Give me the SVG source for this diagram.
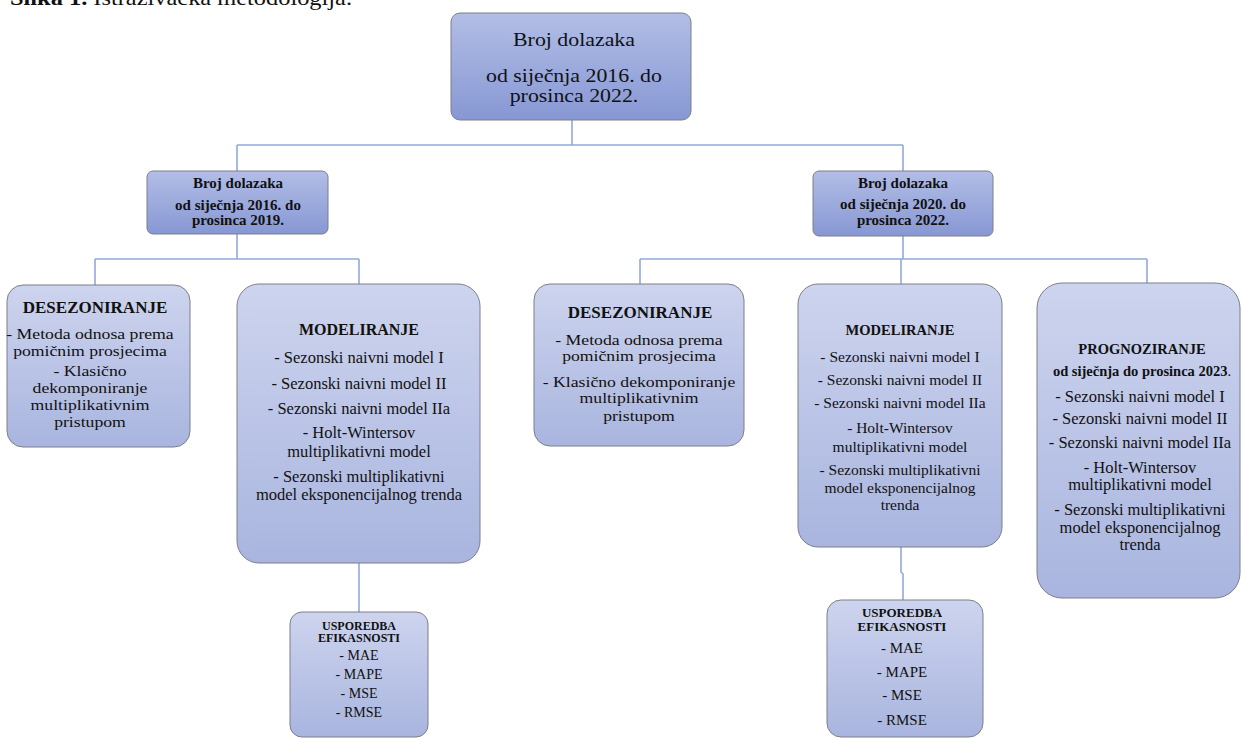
<svg xmlns="http://www.w3.org/2000/svg" width="1242" height="738" viewBox="0 0 1242 738">
  <style>
    text { font-family: "Liberation Serif", "Times New Roman", serif; fill: #111; text-anchor: middle; }
    .b { font-weight: bold; }
    .box { stroke: #7d7f88; stroke-width: 1; }
    .dark { fill: url(#gDark); }
    .light { fill: url(#gLight); }
    .conn { stroke: #93a9de; stroke-width: 1.6; fill: none; }
  </style>
  <defs>
    <linearGradient id="gDark" x1="0" y1="0" x2="0" y2="1">
      <stop offset="0" stop-color="#b2bee6"/>
      <stop offset="1" stop-color="#8797d3"/>
    </linearGradient>
    <linearGradient id="gLight" x1="0" y1="0" x2="0" y2="1">
      <stop offset="0" stop-color="#cdd4ee"/>
      <stop offset="1" stop-color="#a9b5df"/>
    </linearGradient>
  </defs>
  <rect width="1242" height="738" fill="#ffffff"/>

  <g transform="translate(10 0) scale(1.22 1)">
    <text x="0" y="5" style="text-anchor:start;font-size:20px"><tspan class="b">Slika 1.</tspan> Istraživačka metodologija.</text>
  </g>

  <g id="connectors">
    <path class="conn" d="M572 120 V145 M237 145 H903 M237 145 V171 M903 145 V171"/>
    <path class="conn" d="M237 234 V259 M95 259 H359 M95 259 V285 M359 259 V284"/>
    <path class="conn" d="M903 236 V259 M640 259 H1147 M640 259 V284 M901 259 V284 M1147 259 V283"/>
    <path class="conn" d="M359 563 V612"/>
    <path class="conn" d="M901 547 V572 L903 574 V600"/>
  </g>

  <g id="n-root">
    <rect class="box dark" x="451" y="13" width="240" height="107" rx="9"/>
    <g transform="translate(574 0) scale(1.15 1)" style="font-size:19px">
      <text x="0" y="46">Broj dolazaka</text>
      <text x="0" y="82">od siječnja 2016. do</text>
      <text x="0" y="102">prosinca 2022.</text>
    </g>
  </g>

  <g id="n-period1">
    <rect class="box dark" x="147" y="171" width="181" height="63" rx="6"/>
    <text class="b" x="238" y="188" style="font-size:15px">Broj dolazaka</text>
    <text class="b" x="238" y="210" style="font-size:15px">od siječnja 2016. do</text>
    <text class="b" x="238" y="225" style="font-size:15px">prosinca 2019.</text>
  </g>

  <g id="n-period2">
    <rect class="box dark" x="813" y="171" width="180" height="65" rx="6"/>
    <text class="b" x="903" y="188" style="font-size:15px">Broj dolazaka</text>
    <text class="b" x="903" y="209" style="font-size:15px">od siječnja 2020. do</text>
    <text class="b" x="903" y="225" style="font-size:15px">prosinca 2022.</text>
  </g>

  <g id="n-desez1">
    <rect class="box light" x="7" y="285" width="183" height="162" rx="16"/>
    <text class="b" x="95" y="313" style="font-size:17px">DESEZONIRANJE</text>
    <g transform="translate(90 0) scale(1.18 1)" style="font-size:15px">
      <text x="0" y="339">- Metoda odnosa prema</text>
      <text x="0" y="356">pomičnim prosjecima</text>
      <text x="0" y="376">- Klasično</text>
      <text x="0" y="393">dekomponiranje</text>
      <text x="0" y="410">multiplikativnim</text>
      <text x="0" y="427">pristupom</text>
    </g>
  </g>

  <g id="n-model1">
    <rect class="box light" x="237" y="284" width="243" height="279" rx="22"/>
    <text class="b" x="359" y="335" style="font-size:16px">MODELIRANJE</text>
    <g style="font-size:16.5px">
      <text x="359" y="363">- Sezonski naivni model I</text>
      <text x="359" y="389">- Sezonski naivni model II</text>
      <text x="359" y="414">- Sezonski naivni model IIa</text>
      <text x="359" y="438">- Holt-Wintersov</text>
      <text x="359" y="457">multiplikativni model</text>
      <text x="359" y="482">- Sezonski multiplikativni</text>
      <text x="359" y="500">model eksponencijalnog trenda</text>
    </g>
  </g>

  <g id="n-usp1">
    <rect class="box light" x="290" y="612" width="138" height="125" rx="12"/>
    <text class="b" x="359" y="630" style="font-size:12px">USPOREDBA</text>
    <text class="b" x="359" y="642" style="font-size:12px">EFIKASNOSTI</text>
    <g style="font-size:14px">
      <text x="359" y="660">- MAE</text>
      <text x="359" y="679">- MAPE</text>
      <text x="359" y="698">- MSE</text>
      <text x="359" y="717">- RMSE</text>
    </g>
  </g>

  <g id="n-desez2">
    <rect class="box light" x="534" y="284" width="210" height="162" rx="16"/>
    <text class="b" x="640" y="318" style="font-size:17px">DESEZONIRANJE</text>
    <g transform="translate(639 0) scale(1.18 1)" style="font-size:15px">
      <text x="0" y="345">- Metoda odnosa prema</text>
      <text x="0" y="361">pomičnim prosjecima</text>
      <text x="0" y="387">- Klasično dekomponiranje</text>
      <text x="0" y="403">multiplikativnim</text>
      <text x="0" y="421">pristupom</text>
    </g>
  </g>

  <g id="n-model2">
    <rect class="box light" x="798" y="284" width="204" height="263" rx="20"/>
    <text class="b" x="900" y="335" style="font-size:14.5px">MODELIRANJE</text>
    <g style="font-size:15.5px">
      <text x="900" y="362">- Sezonski naivni model I</text>
      <text x="900" y="385">- Sezonski naivni model II</text>
      <text x="900" y="408">- Sezonski naivni model IIa</text>
      <text x="900" y="433">- Holt-Wintersov</text>
      <text x="900" y="452">multiplikativni model</text>
      <text x="900" y="475">- Sezonski multiplikativni</text>
      <text x="900" y="493">model eksponencijalnog</text>
      <text x="900" y="510">trenda</text>
    </g>
  </g>

  <g id="n-usp2">
    <rect class="box light" x="827" y="600" width="156" height="137" rx="14"/>
    <text class="b" x="902" y="617" style="font-size:13px">USPOREDBA</text>
    <text class="b" x="902" y="631" style="font-size:13px">EFIKASNOSTI</text>
    <g style="font-size:15px">
      <text x="902" y="653">- MAE</text>
      <text x="902" y="677">- MAPE</text>
      <text x="902" y="700">- MSE</text>
      <text x="902" y="725">- RMSE</text>
    </g>
  </g>

  <g id="n-progn">
    <rect class="box light" x="1037" y="283" width="203" height="315" rx="25"/>
    <text class="b" x="1142" y="354" style="font-size:14.5px">PROGNOZIRANJE</text>
    <text x="1142" y="376" style="font-size:14.5px"><tspan class="b">od siječnja do prosinca 2023</tspan>.</text>
    <g style="font-size:16.5px">
      <text x="1140" y="402">- Sezonski naivni model I</text>
      <text x="1140" y="424">- Sezonski naivni model II</text>
      <text x="1140" y="448">- Sezonski naivni model IIa</text>
      <text x="1140" y="473">- Holt-Wintersov</text>
      <text x="1140" y="490">multiplikativni model</text>
      <text x="1140" y="515">- Sezonski multiplikativni</text>
      <text x="1140" y="533">model eksponencijalnog</text>
      <text x="1140" y="550">trenda</text>
    </g>
  </g>
</svg>
